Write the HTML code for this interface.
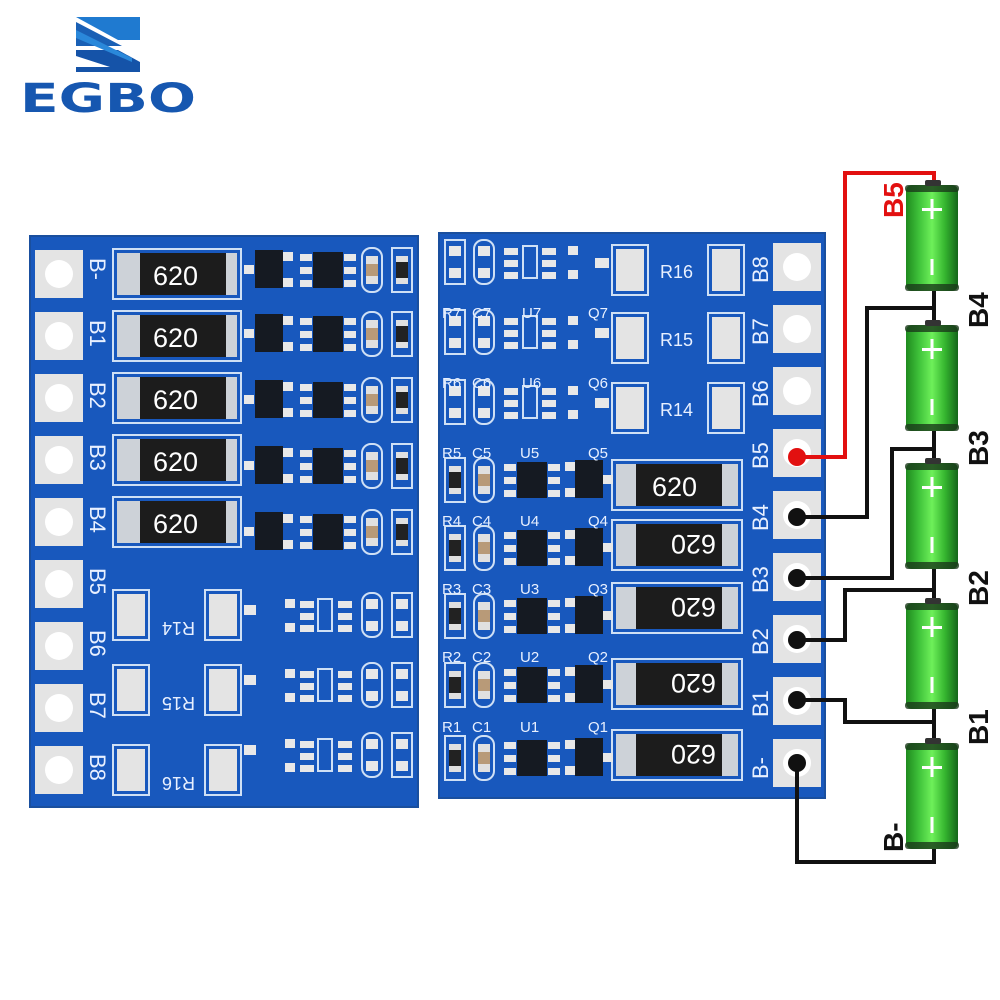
<!DOCTYPE html>
<html><head><meta charset="utf-8"><style>
html,body{margin:0;padding:0;background:#fff;width:1000px;height:1000px;overflow:hidden}
svg{display:block}
text{font-family:"Liberation Sans",sans-serif}
</style></head><body>
<svg width="1000" height="1000" viewBox="0 0 1000 1000" xmlns="http://www.w3.org/2000/svg">
<defs>
<linearGradient id="bat" x1="0" x2="1">
<stop offset="0" stop-color="#1f8a1f"/><stop offset="0.25" stop-color="#3fc23a"/><stop offset="0.5" stop-color="#6ef05a"/><stop offset="0.75" stop-color="#35b52f"/><stop offset="1" stop-color="#14661a"/>
</linearGradient>
<g id="LC">
<rect x="255" y="-20" width="28" height="38" fill="#151a22"/>
<rect x="283" y="-18" width="10" height="9" fill="#e8e8e8"/><rect x="283" y="8" width="10" height="9" fill="#e8e8e8"/><rect x="244" y="-5" width="10" height="9" fill="#e8e8e8"/>
<rect x="313" y="-18" width="30" height="36" fill="#151a22"/>
<rect x="300" y="-16" width="12" height="7" fill="#e8e8e8"/><rect x="300" y="-3" width="12" height="7" fill="#e8e8e8"/><rect x="300" y="10" width="12" height="7" fill="#e8e8e8"/>
<rect x="344" y="-16" width="12" height="7" fill="#e8e8e8"/><rect x="344" y="-3" width="12" height="7" fill="#e8e8e8"/><rect x="344" y="10" width="12" height="7" fill="#e8e8e8"/>
<rect x="362" y="-22" width="20" height="44" rx="9" fill="none" stroke="#cfe0f5" stroke-width="2"/>
<rect x="366" y="-14" width="12" height="28" fill="#e0e0e0"/><rect x="366" y="-6" width="12" height="12" fill="#b89a78"/>
<rect x="392" y="-22" width="20" height="44" fill="none" stroke="#cfe0f5" stroke-width="2"/>
<rect x="396" y="-14" width="12" height="28" fill="#e0e0e0"/><rect x="396" y="-8" width="12" height="16" fill="#222"/>
</g>
<g id="LC2">
<rect x="244" y="-10" width="12" height="10" fill="#e8e8e8"/><rect x="285" y="-16" width="10" height="9" fill="#e8e8e8"/><rect x="285" y="8" width="10" height="9" fill="#e8e8e8"/>
<rect x="300" y="-14" width="14" height="7" fill="#e8e8e8"/><rect x="300" y="-2" width="14" height="7" fill="#e8e8e8"/><rect x="300" y="10" width="14" height="7" fill="#e8e8e8"/>
<rect x="338" y="-14" width="14" height="7" fill="#e8e8e8"/><rect x="338" y="-2" width="14" height="7" fill="#e8e8e8"/><rect x="338" y="10" width="14" height="7" fill="#e8e8e8"/>
<rect x="318" y="-16" width="14" height="32" fill="none" stroke="#cfe0f5" stroke-width="2"/>
<rect x="362" y="-22" width="20" height="44" rx="9" fill="none" stroke="#cfe0f5" stroke-width="2"/>
<rect x="366" y="-16" width="12" height="10" fill="#e8e8e8"/><rect x="366" y="6" width="12" height="10" fill="#e8e8e8"/>
<rect x="392" y="-22" width="20" height="44" fill="none" stroke="#cfe0f5" stroke-width="2"/>
<rect x="396" y="-16" width="12" height="10" fill="#e8e8e8"/><rect x="396" y="6" width="12" height="10" fill="#e8e8e8"/>
</g>
<g id="LR">
<rect x="113" y="-25" width="128" height="50" fill="none" stroke="#cfe0f5" stroke-width="2"/>
<rect x="117" y="-21" width="120" height="42" fill="#cdd2d8"/>
<rect x="140" y="-21" width="86" height="42" fill="#1c1c1c"/>
</g>
<g id="LP">
<rect x="113" y="-25" width="36" height="50" fill="none" stroke="#cfe0f5" stroke-width="2"/>
<rect x="117" y="-21" width="28" height="42" fill="#e4e4e4"/>
<rect x="205" y="-25" width="36" height="50" fill="none" stroke="#cfe0f5" stroke-width="2"/>
<rect x="209" y="-21" width="28" height="42" fill="#e4e4e4"/>
</g>
<g id="PAD"><rect x="0" y="-24" width="48" height="48" fill="#e4e4e4"/><circle cx="24" cy="0" r="14" fill="#fff"/></g>
<g id="RC">
<rect x="445" y="-22" width="20" height="44" fill="none" stroke="#cfe0f5" stroke-width="2"/>
<rect x="449" y="-14" width="12" height="28" fill="#e0e0e0"/><rect x="449" y="-8" width="12" height="16" fill="#222"/>
<rect x="474" y="-22" width="20" height="44" rx="9" fill="none" stroke="#cfe0f5" stroke-width="2"/>
<rect x="478" y="-14" width="12" height="28" fill="#e0e0e0"/><rect x="478" y="-6" width="12" height="12" fill="#b89a78"/>
<rect x="517" y="-18" width="30" height="36" fill="#151a22"/>
<rect x="504" y="-16" width="12" height="7" fill="#e8e8e8"/><rect x="504" y="-3" width="12" height="7" fill="#e8e8e8"/><rect x="504" y="10" width="12" height="7" fill="#e8e8e8"/>
<rect x="548" y="-16" width="12" height="7" fill="#e8e8e8"/><rect x="548" y="-3" width="12" height="7" fill="#e8e8e8"/><rect x="548" y="10" width="12" height="7" fill="#e8e8e8"/>
<rect x="575" y="-20" width="28" height="38" fill="#151a22"/>
<rect x="565" y="-18" width="10" height="9" fill="#e8e8e8"/><rect x="565" y="8" width="10" height="9" fill="#e8e8e8"/><rect x="603" y="-5" width="10" height="9" fill="#e8e8e8"/>
</g>
<g id="RC2">
<rect x="445" y="-22" width="20" height="44" fill="none" stroke="#cfe0f5" stroke-width="2"/>
<rect x="449" y="-16" width="12" height="10" fill="#e8e8e8"/><rect x="449" y="6" width="12" height="10" fill="#e8e8e8"/>
<rect x="474" y="-22" width="20" height="44" rx="9" fill="none" stroke="#cfe0f5" stroke-width="2"/>
<rect x="478" y="-16" width="12" height="10" fill="#e8e8e8"/><rect x="478" y="6" width="12" height="10" fill="#e8e8e8"/>
<rect x="504" y="-14" width="14" height="7" fill="#e8e8e8"/><rect x="504" y="-2" width="14" height="7" fill="#e8e8e8"/><rect x="504" y="10" width="14" height="7" fill="#e8e8e8"/>
<rect x="542" y="-14" width="14" height="7" fill="#e8e8e8"/><rect x="542" y="-2" width="14" height="7" fill="#e8e8e8"/><rect x="542" y="10" width="14" height="7" fill="#e8e8e8"/>
<rect x="523" y="-16" width="14" height="32" fill="none" stroke="#cfe0f5" stroke-width="2"/>
<rect x="568" y="-16" width="10" height="9" fill="#e8e8e8"/><rect x="568" y="8" width="10" height="9" fill="#e8e8e8"/><rect x="595" y="-4" width="14" height="10" fill="#e8e8e8"/>
</g>
<g id="RR">
<rect x="612" y="-25" width="130" height="50" fill="none" stroke="#cfe0f5" stroke-width="2"/>
<rect x="616" y="-21" width="122" height="42" fill="#cdd2d8"/>
<rect x="636" y="-21" width="86" height="42" fill="#1c1c1c"/>
</g>
<g id="RP">
<rect x="612" y="-25" width="36" height="50" fill="none" stroke="#cfe0f5" stroke-width="2"/>
<rect x="616" y="-21" width="28" height="42" fill="#e4e4e4"/>
<rect x="708" y="-25" width="36" height="50" fill="none" stroke="#cfe0f5" stroke-width="2"/>
<rect x="712" y="-21" width="28" height="42" fill="#e4e4e4"/>
</g>
<g id="CELL">
<rect x="906" y="0" width="52" height="106" rx="6" fill="url(#bat)"/>
<rect x="905" y="0" width="54" height="7" rx="3" fill="#1a3a1a" opacity="0.8"/>
<rect x="905" y="99" width="54" height="7" rx="3" fill="#1a3a1a" opacity="0.8"/>
<rect x="925" y="-5" width="16" height="6" rx="2" fill="#333"/>
<rect x="922" y="23" width="20" height="3" fill="#fff"/><rect x="930.5" y="14" width="3" height="20" fill="#fff"/>
<rect x="930.5" y="74" width="3" height="16" fill="#fff"/>
</g>
</defs>

<polygon points="76,17 140,17 140,40 118,40" fill="#1f7ad0"/>
<polygon points="76,22 122,46 76,46" fill="#1a60b5"/>
<polygon points="76,50 118,50 140,62 140,72 76,72 76,67 110,67 76,56" fill="#1553a8"/>
<polygon points="76,30 132,58 132,62 76,38" fill="#2a88da"/>
<text x="20" y="112" font-size="40" font-weight="bold" fill="#1657b0" textLength="176" lengthAdjust="spacingAndGlyphs" style="font-family:'DejaVu Sans',sans-serif">EGBO</text>

<rect x="30" y="236" width="388" height="571" fill="#1858bd"/>
<rect x="30" y="236" width="388" height="571" fill="none" stroke="#1a4f9e" stroke-width="2"/>
<g>
<use href="#PAD" x="35" y="274"/><use href="#PAD" x="35" y="336"/><use href="#PAD" x="35" y="398"/><use href="#PAD" x="35" y="460"/><use href="#PAD" x="35" y="522"/><use href="#PAD" x="35" y="584"/><use href="#PAD" x="35" y="646"/><use href="#PAD" x="35" y="708"/><use href="#PAD" x="35" y="770"/>
<use href="#LR" y="274"/><use href="#LR" y="336"/><use href="#LR" y="398"/><use href="#LR" y="460"/><use href="#LR" y="522"/>
<use href="#LP" y="615"/><use href="#LP" y="690"/><use href="#LP" y="770"/>
<use href="#LC" y="270"/><use href="#LC" y="334"/><use href="#LC" y="400"/><use href="#LC" y="466"/><use href="#LC" y="532"/>
<use href="#LC2" y="615"/><use href="#LC2" y="685"/><use href="#LC2" y="755"/>
</g>
<g fill="#fff">
<text x="153" y="285" font-size="27">620</text><text x="153" y="347" font-size="27">620</text><text x="153" y="409" font-size="27">620</text><text x="153" y="471" font-size="27">620</text><text x="153" y="533" font-size="27">620</text>
</g>
<g fill="#e8f0ff" font-size="22">
<text transform="translate(90,258) rotate(90)">B-</text>
<text transform="translate(90,320) rotate(90)">B1</text>
<text transform="translate(90,382) rotate(90)">B2</text>
<text transform="translate(90,444) rotate(90)">B3</text>
<text transform="translate(90,506) rotate(90)">B4</text>
<text transform="translate(90,568) rotate(90)">B5</text>
<text transform="translate(90,630) rotate(90)">B6</text>
<text transform="translate(90,692) rotate(90)">B7</text>
<text transform="translate(90,754) rotate(90)">B8</text>
<text transform="translate(195,622) rotate(180)" font-size="18">R14</text>
<text transform="translate(195,697) rotate(180)" font-size="18">R15</text>
<text transform="translate(195,777) rotate(180)" font-size="18">R16</text>
</g>

<rect x="439" y="233" width="386" height="565" fill="#1858bd"/>
<rect x="439" y="233" width="386" height="565" fill="none" stroke="#1a4f9e" stroke-width="2"/>
<use href="#PAD" x="773" y="267"/><use href="#PAD" x="773" y="329"/><use href="#PAD" x="773" y="391"/><use href="#PAD" x="773" y="453"/><use href="#PAD" x="773" y="515"/><use href="#PAD" x="773" y="577"/><use href="#PAD" x="773" y="639"/><use href="#PAD" x="773" y="701"/><use href="#PAD" x="773" y="763"/>
<use href="#RP" y="270"/><use href="#RP" y="338"/><use href="#RP" y="408"/>
<use href="#RR" y="485"/><use href="#RR" y="545"/><use href="#RR" y="608"/><use href="#RR" y="684"/><use href="#RR" y="755"/>
<use href="#RC2" y="262"/><use href="#RC2" y="332"/><use href="#RC2" y="402"/>
<use href="#RC" y="480"/><use href="#RC" y="548"/><use href="#RC" y="616"/><use href="#RC" y="685"/><use href="#RC" y="758"/>
<g fill="#fff">
<text x="652" y="496" font-size="27">620</text>
<text transform="translate(716,535) rotate(180)" font-size="27">620</text>
<text transform="translate(716,598) rotate(180)" font-size="27">620</text>
<text transform="translate(716,674) rotate(180)" font-size="27">620</text>
<text transform="translate(716,745) rotate(180)" font-size="27">620</text>
</g>
<g fill="#e8f0ff" font-size="22">
<text x="660" y="278" font-size="18">R16</text><text x="660" y="346" font-size="18">R15</text><text x="660" y="416" font-size="18">R14</text>
<text transform="translate(768,283) rotate(-90)">B8</text>
<text transform="translate(768,345) rotate(-90)">B7</text>
<text transform="translate(768,407) rotate(-90)">B6</text>
<text transform="translate(768,469) rotate(-90)">B5</text>
<text transform="translate(768,531) rotate(-90)">B4</text>
<text transform="translate(768,593) rotate(-90)">B3</text>
<text transform="translate(768,655) rotate(-90)">B2</text>
<text transform="translate(768,717) rotate(-90)">B1</text>
<text transform="translate(768,779) rotate(-90)">B-</text>
<g font-size="15">
<text x="442" y="458">R5</text><text x="472" y="458">C5</text><text x="520" y="458">U5</text><text x="588" y="458">Q5</text>
<text x="442" y="526">R4</text><text x="472" y="526">C4</text><text x="520" y="526">U4</text><text x="588" y="526">Q4</text>
<text x="442" y="594">R3</text><text x="472" y="594">C3</text><text x="520" y="594">U3</text><text x="588" y="594">Q3</text>
<text x="442" y="662">R2</text><text x="472" y="662">C2</text><text x="520" y="662">U2</text><text x="588" y="662">Q2</text>
<text x="442" y="732">R1</text><text x="472" y="732">C1</text><text x="520" y="732">U1</text><text x="588" y="732">Q1</text>
<text x="442" y="318">R7</text><text x="472" y="318">C7</text><text x="522" y="318">U7</text><text x="588" y="318">Q7</text>
<text x="442" y="388">R6</text><text x="472" y="388">C6</text><text x="522" y="388">U6</text><text x="588" y="388">Q6</text>
</g>
</g>

<g fill="none" stroke-width="4" stroke-linejoin="miter">
<polyline points="797,457 845,457 845,173 934,173 934,185" stroke="#e21010"/>
<polyline points="797,517 867,517 867,308 934,308" stroke="#111"/>
<polyline points="797,578 892,578 892,449 934,449" stroke="#111"/>
<polyline points="797,640 845,640 845,590 934,590" stroke="#111"/>
<polyline points="797,700 845,700 845,722 934,722" stroke="#111"/>
<polyline points="797,763 797,862 934,862 934,848" stroke="#111"/>
<line x1="934" y1="290" x2="934" y2="325" stroke="#111"/>
<line x1="934" y1="430" x2="934" y2="463" stroke="#111"/>
<line x1="934" y1="568" x2="934" y2="603" stroke="#111"/>
<line x1="934" y1="708" x2="934" y2="743" stroke="#111"/>
</g>
<circle cx="797" cy="457" r="9" fill="#e21010"/>
<circle cx="797" cy="517" r="9" fill="#111"/><circle cx="797" cy="578" r="9" fill="#111"/><circle cx="797" cy="640" r="9" fill="#111"/><circle cx="797" cy="700" r="9" fill="#111"/><circle cx="797" cy="763" r="9" fill="#111"/>

<use href="#CELL" y="185"/><use href="#CELL" y="325"/><use href="#CELL" y="463"/><use href="#CELL" y="603"/><use href="#CELL" y="743"/>

<g font-weight="bold" font-size="28">
<text transform="translate(903,218) rotate(-90)" fill="#e21010">B5</text>
<text transform="translate(988,328) rotate(-90)" fill="#111">B4</text>
<text transform="translate(988,466) rotate(-90)" fill="#111">B3</text>
<text transform="translate(988,606) rotate(-90)" fill="#111">B2</text>
<text transform="translate(988,745) rotate(-90)" fill="#111">B1</text>
<text transform="translate(903,852) rotate(-90)" fill="#111">B-</text>
</g>
</svg>
</body></html>
